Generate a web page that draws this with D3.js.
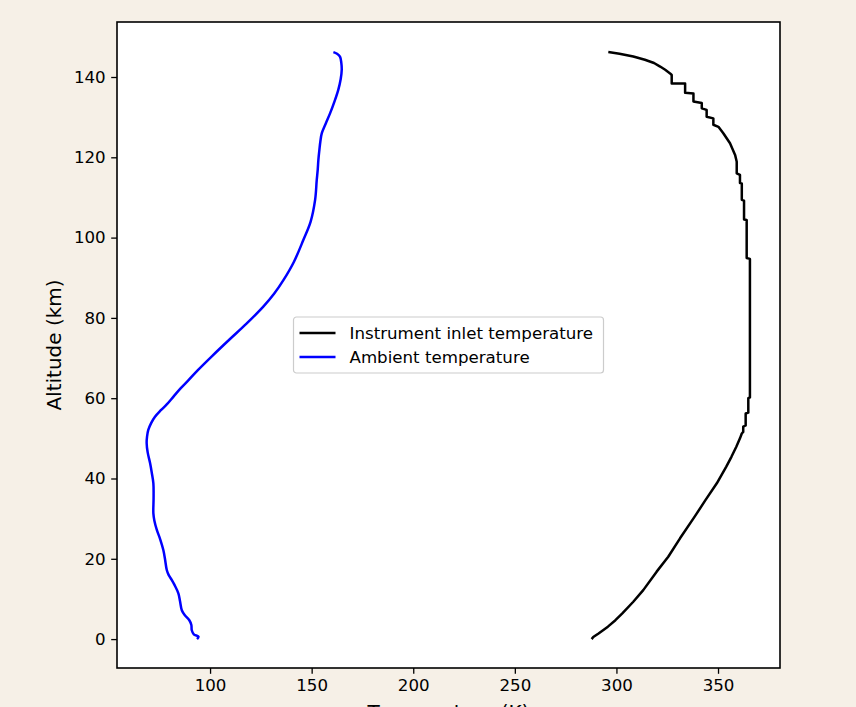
<!DOCTYPE html>
<html>
<head>
<meta charset="utf-8">
<script src="https://cdn.jsdelivr.net/npm/d3@7"></script>
<style>
  html, body { margin: 0; padding: 0; background: #f6f0e7; }
  svg { display: block; font-family: "DejaVu Sans", sans-serif; }
</style>
</head>
<body>
<svg id="chart"></svg>
<script>
// Instrument inlet temperature profile
const inletAlt = [0.0, 0.5, 1.4, 3.1, 4.7, 6.4, 9.3, 12.2, 16.8, 20.5, 25.1, 30.5, 34.6, 38.8, 42.9, 45.4, 47.9,
  50.0, 51.2, 51.6, 52.9, 53.2, 56.2, 56.4, 60.0, 60.2, 94.7, 94.9, 104.4, 104.5, 109.2, 109.4,
  113.5, 113.6, 115.6, 116.0, 118.9, 120.6, 123.5, 126.0, 127.6, 128.1, 129.7, 130.1, 131.8, 132.2,
  133.5, 133.9, 135.9, 136.1, 138.4, 138.4, 140.5, 140.9, 141.8, 142.6, 143.5, 144.3, 145.1, 145.8, 146.2];
const inletTemp = [287.8, 288.6, 291.2, 295.8, 299.5, 302.9, 308.3, 313.2, 319.8, 325.5, 331.3, 338.5, 343.8, 349.4, 354.0, 356.6, 359.0,
  360.8, 361.7, 362.4, 362.4, 363.6, 363.6, 364.9, 364.9, 365.7, 365.7, 364.1, 364.1, 362.8, 362.8, 361.7,
  361.7, 360.8, 360.8, 359.2, 359.2, 358.4, 355.9, 352.6, 350.2, 347.7, 347.7, 344.4, 344.4, 342.0,
  342.0, 337.9, 337.9, 333.8, 333.8, 327.2, 327.2, 326.4, 324.0, 321.5, 318.5, 314.0, 308.3, 301.5, 296.0];

// Ambient temperature profile
const ambientAlt = [0.0, 0.6, 1.2, 2.2, 3.5, 4.7, 6.0, 7.2, 9.5, 11.4, 13.5, 14.7, 16.0, 17.2, 20.0,
  22.2, 24.8, 27.2, 29.5, 31.3, 35.0, 38.8, 41.5, 43.8, 46.5, 48.8, 50.5, 52.1, 53.8, 55.4, 57.0,
  58.5, 60.4, 62.5, 64.5, 67.0, 70.5, 74.5, 78.5, 82.8, 86.0, 89.4, 94.0, 99.4, 104.0, 109.4, 114.3,
  117.0, 119.3, 121.8, 124.0, 126.0, 128.5, 131.0, 134.0, 136.8, 139.5, 141.8, 143.5, 145.0, 145.8, 146.2];
const ambientTemp = [93.6, 94.3, 92.0, 91.0, 90.8, 89.8, 87.5, 86.1, 85.2, 84.4, 82.5, 81.2, 79.6, 78.7, 77.8,
  77.0, 75.5, 73.8, 72.6, 72.1, 72.2, 72.1, 71.3, 70.5, 69.3, 68.8, 69.0, 69.6, 71.0, 72.9, 75.8,
  78.8, 82.0, 85.6, 89.4, 94.0, 101.0, 109.3, 117.8, 126.2, 131.5, 136.1, 141.3, 145.9, 149.5, 151.7, 152.5,
  153.0, 153.3, 153.8, 154.3, 155.0, 157.0, 159.1, 161.3, 163.1, 164.3, 164.8, 164.6, 164.0, 162.5, 160.7];

const xTicks = [100, 150, 200, 250, 300, 350];
const yTicks = [0, 20, 40, 60, 80, 100, 120, 140];
const seriesNames = ["Instrument inlet temperature", "Ambient temperature"];
const seriesColors = ["#000000", "#0000ff"];

const width = 856, height = 707;
const margin = { top: 22, right: 76, bottom: 39, left: 117 };
const plotW = width - margin.left - margin.right;
const plotH = height - margin.top - margin.bottom;
const fontSize = 16.67, labelSize = 20;

const svg = d3.select("#chart").attr("width", width).attr("height", height);

const x = d3.scaleLinear().domain([54.2, 380.5]).range([0, plotW]);
const y = d3.scaleLinear().domain([-7.2, 153.7]).range([plotH, 0]);

const g = svg.append("g").attr("transform", `translate(${margin.left},${margin.top})`);

g.append("rect").attr("width", plotW).attr("height", plotH).attr("fill", "#fff");

const inlet = inletAlt.map((a, i) => ({ alt: a, t: inletTemp[i] }));
const ambient = ambientAlt.map((a, i) => ({ alt: a, t: ambientTemp[i] }));

g.append("path")
  .datum(inlet)
  .attr("fill", "none")
  .attr("stroke", seriesColors[0])
  .attr("stroke-width", 2.5)
  .attr("stroke-linejoin", "round")
  .attr("d", d3.line().x(d => x(d.t)).y(d => y(d.alt)));

g.append("path")
  .datum(ambient)
  .attr("fill", "none")
  .attr("stroke", seriesColors[1])
  .attr("stroke-width", 2.5)
  .attr("stroke-linejoin", "round")
  .attr("d", d3.line().curve(d3.curveCatmullRom).x(d => x(d.t)).y(d => y(d.alt)));

// axes
const xAxis = g.append("g")
  .attr("transform", `translate(0,${plotH})`)
  .call(d3.axisBottom(x).tickValues(xTicks).tickSize(5.8).tickPadding(5.5).tickSizeOuter(0));
const yAxis = g.append("g")
  .call(d3.axisLeft(y).tickValues(yTicks).tickSize(5.8).tickPadding(5.5).tickSizeOuter(0));

[xAxis, yAxis].forEach(ax => {
  ax.attr("font-size", fontSize).attr("font-family", "DejaVu Sans");
  ax.select(".domain").remove();
  ax.selectAll("line").attr("stroke", "#000").attr("stroke-width", 1.3);
  ax.selectAll("text").attr("fill", "#000");
});

// frame
g.append("rect")
  .attr("width", plotW).attr("height", plotH)
  .attr("fill", "none").attr("stroke", "#000").attr("stroke-width", 1.6);

// axis labels
svg.append("text")
  .attr("x", margin.left + plotW / 2).attr("y", 718.5)
  .attr("text-anchor", "middle").attr("font-size", labelSize)
  .text("Temperature (K)");
svg.append("text")
  .attr("transform", `translate(60.5,${margin.top + plotH / 2}) rotate(-90)`)
  .attr("text-anchor", "middle").attr("font-size", labelSize)
  .text("Altitude (km)");

// legend, centred in the axes
const lg = g.append("g").attr("transform", `translate(${plotW / 2 - 155},${plotH / 2 - 28})`);
lg.append("rect")
  .attr("width", 310).attr("height", 56).attr("rx", 3)
  .attr("fill", "#fff").attr("fill-opacity", 0.8)
  .attr("stroke", "#cccccc").attr("stroke-width", 1.2);
seriesNames.forEach((name, i) => {
  const yy = 16 + i * 24;
  lg.append("line").attr("x1", 6).attr("x2", 42).attr("y1", yy).attr("y2", yy)
    .attr("stroke", seriesColors[i]).attr("stroke-width", 2.5);
  lg.append("text").attr("x", 56).attr("y", yy).attr("dy", "0.35em")
    .attr("font-size", fontSize).text(name);
});
</script>
</body>
</html>
